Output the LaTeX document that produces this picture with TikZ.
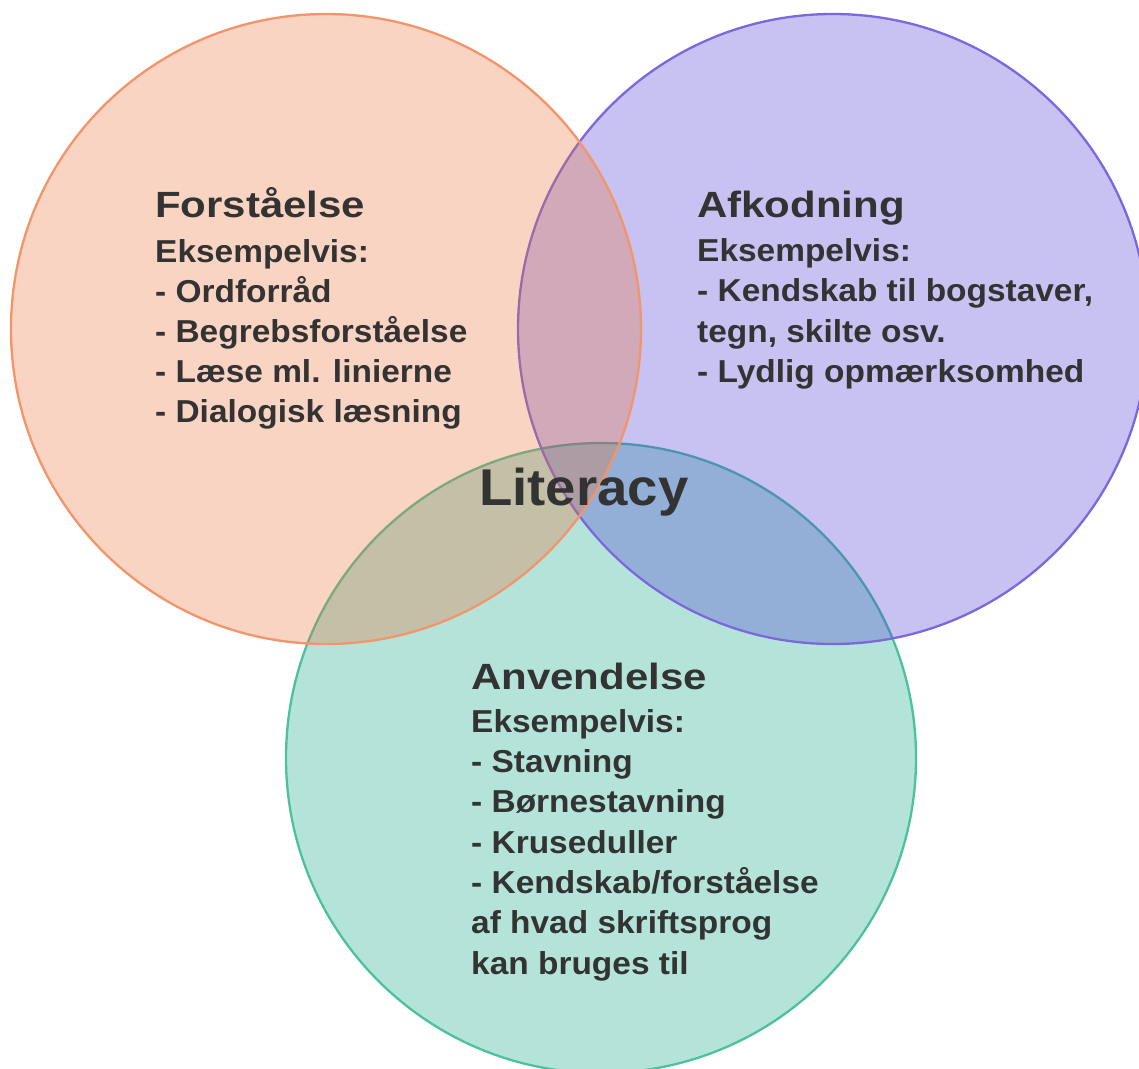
\documentclass[tikz,border=0pt]{standalone}
\usepackage{fontspec}
\setmainfont{Liberation Sans}
\newfontfamily\ttlfont[FakeStretch=1.15]{Liberation Sans}
\newfontfamily\bdyfont[FakeStretch=1.055]{Liberation Sans}
\newfontfamily\litfont[FakeStretch=1.055]{Liberation Sans}
\definecolor{txtc}{HTML}{333333}
\definecolor{orS}{HTML}{F2956A}
\definecolor{orF}{RGB}{235,112,52}
\definecolor{puS}{HTML}{7B68DE}
\definecolor{puF}{RGB}{72,52,212}
\definecolor{grS}{HTML}{4DC19C}
\definecolor{grF}{RGB}{8,165,128}
\tikzset{
  venn/.style={line width=2.3pt, fill opacity=0.3},
  ttl/.style={anchor=base west, inner sep=0pt, text=txtc, font=\ttlfont\bfseries\fontsize{36.5}{40}\selectfont},
  bdy/.style={anchor=base west, inner sep=0pt, text=txtc, font=\bdyfont\bfseries\fontsize{31.7}{38}\selectfont},
  lit/.style={anchor=base west, inner sep=0pt, text=txtc, font=\litfont\bfseries\fontsize{51.7}{56}\selectfont}
}
\begin{document}
\begin{tikzpicture}[x=1pt,y=-1pt]
\useasboundingbox (0,0) rectangle (1139,1068);
% circles: green, purple, orange
\draw[venn, draw=grS, fill=grF] (601,758) circle[radius=315];
\draw[venn, draw=puS, fill=puF] (833,329) circle[radius=315];
\draw[venn, draw=orS, fill=orF] (326,329) circle[radius=315];
% left block
\node[ttl] (f0) at (155,217) {Forståelse};
\node[bdy] (f1) at (155,262) {Eksempelvis:};
\node[bdy] (f2) at (155,302) {- Ordforråd};
\node[bdy] (f3) at (155,342) {- Begrebsforståelse};
\node[bdy] (f4) at (155,382) {- Læse ml. linierne};
\node[bdy] (f5) at (155,422) {- Dialogisk læsning};
% right block
\node[ttl] (a0) at (697,217) {Afkodning};
\node[bdy] (a1) at (697,261) {Eksempelvis:};
\node[bdy] (a2) at (697,301) {- Kendskab til bogstaver,};
\node[bdy] (a3) at (697,342) {tegn, skilte osv.};
\node[bdy] (a4) at (697,382) {- Lydlig opmærksomhed};
% bottom block
\node[ttl] (b0) at (471,689) {Anvendelse};
\node[bdy] (b1) at (471,732) {Eksempelvis:};
\node[bdy] (b2) at (471,772) {- Stavning};
\node[bdy] (b3) at (471,812) {- Børnestavning};
\node[bdy] (b4) at (471,853) {- Kruseduller};
\node[bdy] (b5) at (471,893) {- Kendskab/forståelse};
\node[bdy] (b6) at (471,933) {af hvad skriftsprog};
\node[bdy] (b7) at (471,974) {kan bruges til};
% center
\node[lit] (lit) at (479,505) {Literacy};
\end{tikzpicture}
\end{document}
